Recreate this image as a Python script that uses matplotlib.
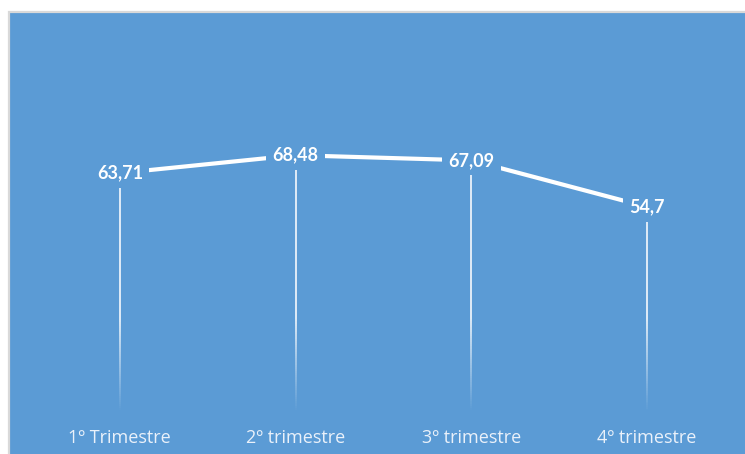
import matplotlib.pyplot as plt
import numpy as np
from matplotlib.collections import LineCollection
from matplotlib.patches import Rectangle

trimestres = ['1º Trimestre', '2º trimestre', '3º trimestre', '4º trimestre']
valores = [63.71, 68.48, 67.09, 54.7]
etiquetas = ['63,71', '68,48', '67,09', '54,7']

azul = '#5B9BD5'

fig = plt.figure(figsize=(7.45, 4.54), dpi=100)
fig.patch.set_facecolor('white')

# fundo do grafico com contorno cinza
fundo = Rectangle((8.5 / 745, -0.05), 1.0, (454 - 11.5) / 454 + 0.05,
                  transform=fig.transFigure, facecolor=azul,
                  edgecolor='#D9D9D9', linewidth=1.6, zorder=-1)
fig.patches.append(fundo)

ax = fig.add_axes([32 / 745, 42 / 454, 703 / 745, 300 / 454])
ax.set_facecolor('none')
x = np.arange(len(valores))

# linhas de projecao com degrade ate o eixo
for xi, v in zip(x, valores):
    ys = np.linspace(0, v, 120)
    segs = [[(xi, ys[i]), (xi, ys[i + 1])] for i in range(len(ys) - 1)]
    alfas = np.clip(ys[:-1] / 25.0, 0, 1)
    cores = [(1, 1, 1, a * 0.95) for a in alfas]
    ax.add_collection(LineCollection(segs, colors=cores, linewidths=1.2, zorder=1))

ax.plot(x, valores, color='white', linewidth=3, solid_capstyle='butt', zorder=2)

for xi, v, t in zip(x, valores, etiquetas):
    ax.text(xi, v, t, ha='center', va='center', color='white',
            fontsize=13, fontweight='bold', family='Lato', zorder=3,
            bbox=dict(boxstyle='square,pad=0.35', facecolor=azul, edgecolor='none'))

ax.set_xlim(-0.5, 3.5)
ax.set_ylim(0, 80)
ax.set_yticks([])
ax.set_xticks(x)
ax.set_xticklabels(trimestres, fontsize=13, family='Open Sans', color='#EAF1FA')
ax.tick_params(axis='x', length=0, pad=12)
for s in ax.spines.values():
    s.set_visible(False)

fig.savefig('out.png', dpi=100)
